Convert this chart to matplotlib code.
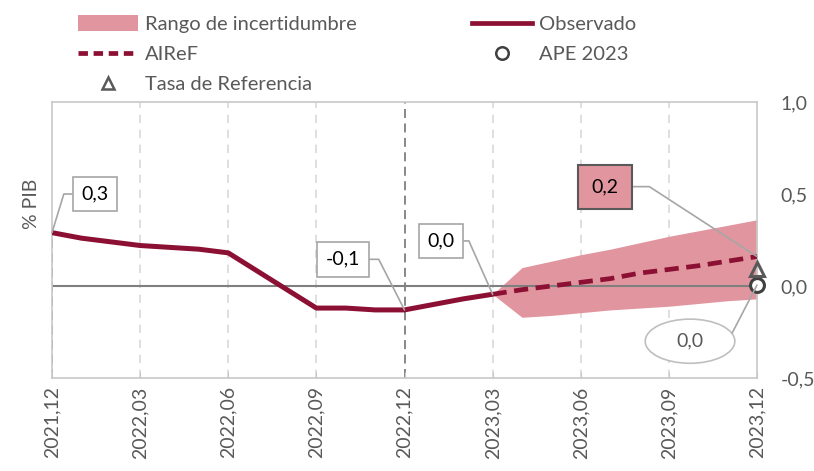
import matplotlib
matplotlib.use("Agg")
import matplotlib.pyplot as plt
from matplotlib.lines import Line2D
from matplotlib.patches import Patch, Ellipse

plt.rcParams["font.family"] = ["Lato", "DejaVu Sans"]

# Data (% PIB), monthly index from 2021,12
tick_labels = ["2021,12", "2022,03", "2022,06", "2022,09", "2022,12",
               "2023,03", "2023,06", "2023,09", "2023,12"]
observado = [0.29, 0.26, 0.24, 0.22, 0.21, 0.20, 0.18, 0.08, -0.02, -0.12,
             -0.12, -0.13, -0.13, -0.10, -0.07, -0.045]
airef = [-0.045, -0.02, 0.00, 0.02, 0.04, 0.07, 0.09, 0.11, 0.135, 0.16]
rango_sup = [-0.045, 0.10, 0.135, 0.17, 0.20, 0.235, 0.27, 0.30, 0.33, 0.36]
rango_inf = [-0.045, -0.17, -0.16, -0.145, -0.13, -0.12, -0.11, -0.095, -0.08, -0.07]
ape_2023 = 0.005
tasa_ref = 0.09
y_ticks = [1.0, 0.5, 0.0, -0.5]
y_tick_labels = ["1,0", "0,5", "0,0", "-0,5"]

RED = "#8c1034"
PINK = "#e1969f"
TXT = "#595959"
FRAME = "#c8c8c8"
FS = 14

x_obs = list(range(len(observado)))
x_fc = list(range(len(observado) - 1, len(observado) - 1 + len(airef)))
x_end = x_fc[-1]

fig = plt.figure(figsize=(8.14, 4.71), dpi=100)
ax = fig.add_axes([52 / 814, 1 - 378 / 471, 705 / 814, 276 / 471])

ax.fill_between(x_fc, rango_inf, rango_sup, color=PINK, lw=0, zorder=1)
ax.axhline(0, color="#7f7f7f", lw=1.5, zorder=2)
ax.plot(x_obs, observado, color=RED, lw=3.6, zorder=4, solid_capstyle="butt")
ax.plot(x_fc, airef, color=RED, lw=3.4, ls=(0, (3, 1.6)), zorder=4)
ax.plot([x_end], [ape_2023], "o", ms=10, mfc="white", mec="#404040", mew=2.2, zorder=5,
        clip_on=False)
ax.plot([x_end], [tasa_ref], "^", ms=10, mfc="none", mec=TXT, mew=2.2, zorder=5,
        clip_on=False)

# grid lines at quarters
for q in range(3, x_end, 3):
    if q == 12:
        ax.axvline(q, color="#7f7f7f", lw=1.3, ls=(0, (5, 3)), zorder=1.5)
    else:
        ax.axvline(q, color="#d9d9d9", lw=1.2, ls=(0, (5, 4)), zorder=0.5)
ax.plot([0, 0], [-0.5, observado[0]], color="#7f7f7f", lw=1.3, ls=(0, (5, 3)), zorder=1.5)

ax.set_xlim(0, x_end)
ax.set_ylim(-0.5, 1.0)
ax.set_xticks(range(0, x_end + 1, 3))
ax.set_xticklabels(tick_labels, rotation=90, fontsize=FS, color=TXT)
ax.tick_params(axis="x", direction="in", length=4, color=FRAME, pad=6)
ax.yaxis.tick_right()
ax.set_yticks(y_ticks)
ax.set_yticklabels(y_tick_labels, fontsize=FS, color=TXT)
ax.tick_params(axis="y", length=0, pad=17)
for s in ax.spines.values():
    s.set_color(FRAME)
    s.set_linewidth(1.2)
ax.set_ylabel("% PIB", fontsize=FS, color=TXT)
ax.yaxis.set_label_coords(-0.017, 0.63)

# data labels
white_box = dict(boxstyle="square,pad=0.45", fc="white", ec="#a6a6a6", lw=1.2)
line_kw = dict(arrowstyle="-", color="#a6a6a6", lw=1.2, shrinkA=0, shrinkB=0)


def label(txt, xy, xytext, angle, bbox=None, color="black", patch=None):
    arrow = dict(connectionstyle=f"angle,angleA=0,angleB={angle},rad=0", **line_kw)
    if patch is not None:
        arrow["patchA"] = patch
    ax.annotate(txt, xy=xy, xytext=xytext, textcoords="data", fontsize=FS,
                color=color, ha="center", va="center", bbox=bbox, zorder=6,
                annotation_clip=False, arrowprops=arrow)


label("0,3", (0, observado[0]), (1.46, 0.50), 73, white_box)
label("-0,1", (12, observado[12]), (9.9, 0.145), 117, white_box)
label("0,0", (15, observado[15]), (13.24, 0.245), 114, white_box)
label("0,2", (x_end, airef[-1]), (18.83, 0.54), 147,
      dict(boxstyle="square,pad=0.7", fc=PINK, ec=TXT, lw=1.5))

ell_center = (21.72, -0.30)
ell = Ellipse(ell_center, width=3.05, height=0.24, fc="white", ec="#bfbfbf", lw=1.2,
              zorder=5.5, clip_on=False)
ax.add_patch(ell)
label("0,0", (x_end, ape_2023), ell_center, 62.6, color=TXT, patch=ell)

handles = [
    Patch(fc=PINK, ec="none", label="Rango de incertidumbre"),
    Line2D([], [], color=RED, lw=3.4, ls=(0, (2, 1.2)), label="AIReF"),
    Line2D([], [], marker="^", ls="none", ms=9, mfc="none", mec=TXT, mew=1.8,
           label="Tasa de Referencia"),
    Line2D([], [], color=RED, lw=3.4, label="Observado"),
    Line2D([], [], marker="o", ls="none", ms=9, mfc="none", mec="#404040", mew=1.8,
           label="APE 2023"),
]
fig.legend(handles=handles, ncol=2, loc="upper left",
           bbox_to_anchor=(70 / 814, 1 - 7 / 471), frameon=False, fontsize=14.5,
           labelcolor=TXT, handlelength=3.0, handleheight=0.85, handletextpad=0.3,
           columnspacing=5.75, labelspacing=0.6, borderaxespad=0)

fig.savefig("out.png", dpi=100)
